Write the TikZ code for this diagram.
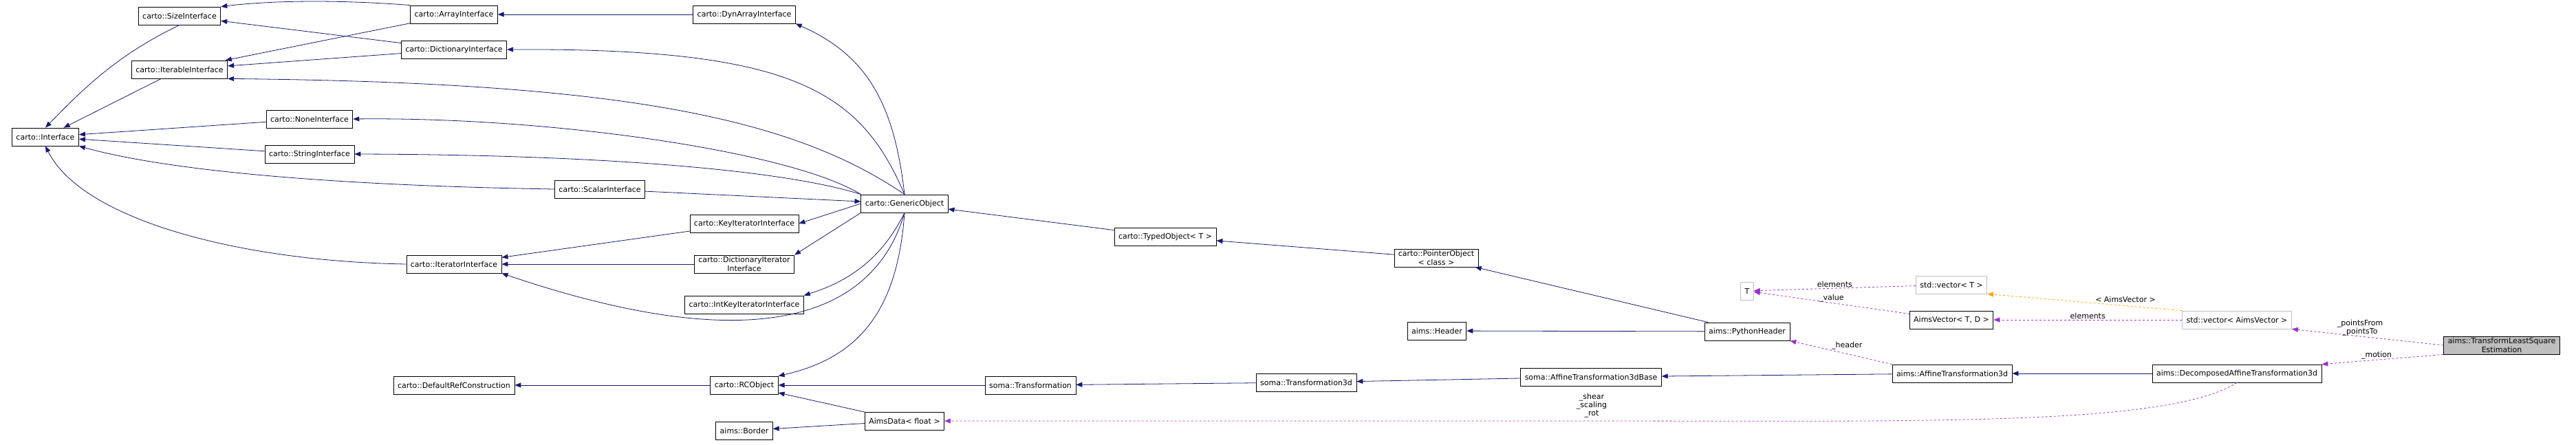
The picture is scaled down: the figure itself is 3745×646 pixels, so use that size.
\documentclass[tikz,border=0pt]{standalone}
\usepackage{fontspec}
\setmainfont{DejaVu Sans}
\usetikzlibrary{arrows.meta}
\definecolor{navy}{HTML}{191970}
\definecolor{orchid}{HTML}{9A32CD}
\definecolor{tmplorange}{HTML}{FFA500}
\begin{document}
\begin{tikzpicture}[x=1pt, y=-1pt, font=\fontsize{11}{13}\selectfont,
		cls/.style={draw, thick, fill=white, minimum height=26pt, inner xsep=6pt, inner ysep=2pt, align=center},
		ext/.style={cls, draw=gray!50},
		focus/.style={cls, fill=gray!50},
		inh/.style={-{Triangle[length=9pt, width=7pt]}, thick, navy},
		use/.style={-{Triangle[length=9pt, width=7pt]}, thick, dashed, orchid},
		tmpl/.style={-{Triangle[length=9pt, width=7pt]}, thick, dashed, tmplorange},
		lbl/.style={font=\fontsize{11}{12}\selectfont, text=black, align=center, inner sep=1pt}]
	\useasboundingbox (0,0) rectangle (3745,646);
	% carto interfaces
	\node[cls] (iface) at (66, 199) {carto::Interface};
	\node[cls] (size) at (261, 23) {carto::SizeInterface};
	\node[cls] (iter) at (261, 101) {carto::IterableInterface};
	\node[cls] (array) at (660, 21) {carto::ArrayInterface};
	\node[cls] (dict) at (660, 72) {carto::DictionaryInterface};
	\node[cls] (none) at (450, 173) {carto::NoneInterface};
	\node[cls] (str) at (450, 224) {carto::StringInterface};
	\node[cls] (scalar) at (872, 275) {carto::ScalarInterface};
	\node[cls] (iterator) at (660, 384) {carto::IteratorInterface};
	\node[cls] (defref) at (660, 560) {carto::DefaultRefConstruction};
	\node[cls] (dyn) at (1082, 21) {carto::DynArrayInterface};
	\node[cls] (keyit) at (1082, 325) {carto::KeyIteratorInterface};
	\node[cls] (dictit) at (1082, 384) {carto::DictionaryIterator\\Interface};
	\node[cls] (intkey) at (1082, 443) {carto::IntKeyIteratorInterface};
	\node[cls] (gen) at (1315, 296) {carto::GenericObject};
	\node[cls] (typed) at (1694, 344) {carto::TypedObject< T >};
	\node[cls] (ptr) at (2088, 375) {carto::PointerObject\\< class >};
	\node[cls] (rc) at (1082, 560) {carto::RCObject};
	% aims / soma
	\node[cls] (header) at (2089, 481) {aims::Header};
	\node[cls] (pyhdr) at (2540, 482) {aims::PythonHeader};
	\node[cls] (trans) at (1498, 560) {soma::Transformation};
	\node[cls] (trans3d) at (1899, 556) {soma::Transformation3d};
	\node[cls] (affbase) at (2313, 548) {soma::AffineTransformation3dBase};
	\node[cls] (aff) at (2838, 543) {aims::AffineTransformation3d};
	\node[cls] (decomp) at (3252, 543) {aims::DecomposedAffineTransformation3d};
	\node[cls] (data) at (1315, 612) {AimsData< float >};
	\node[cls] (border) at (1082, 626) {aims::Border};
	\node[ext] (t) at (2540, 423) {T};
	\node[ext] (vect) at (2837, 414) {std::vector< T >};
	\node[cls] (aimsvec) at (2837, 465) {AimsVector< T, D >};
	\node[ext] (vecav) at (3252, 465) {std::vector< AimsVector >};
	\node[focus] (tls) at (3637, 502) {aims::TransformLeastSquare\\Estimation};
	% inheritance
	\foreach \a/\b in {iter/iface, none/iface, str/iface, dict/size, array/iter, dict/iter,
			keyit/iterator, dictit/iterator, scalar/gen, typed/gen, ptr/typed, pyhdr/ptr,
			pyhdr/header, rc/defref, trans/rc, data/rc, data/border, trans3d/trans,
			affbase/trans3d, aff/affbase, decomp/aff} {
		\draw[inh] (\a) -- (\b);
	}
	\draw[inh] (size.south) .. controls (170,80) and (120,130) .. (iface.north);
	\draw[inh] (scalar.west) .. controls (500,270) and (250,250) .. (iface.south east);
	\draw[inh] (iterator.west) .. controls (350,380) and (120,320) .. (iface.south);
	\draw[inh] (array.north west) .. controls (500,0) and (400,0) .. (size.north east);
	\draw[inh] (dyn) -- (array);
	\draw[inh] (gen.north) .. controls (1300,150) and (1260,80) .. (dyn.south east);
	\draw[inh] (gen.north) .. controls (1250,130) and (1150,70) .. (dict.east);
	\draw[inh] (gen.north) .. controls (1150,170) and (900,120) .. (iter.south east);
	\draw[inh] (gen.north west) .. controls (1150,220) and (800,170) .. (none.east);
	\draw[inh] (gen.north west) .. controls (1150,250) and (900,225) .. (str.east);
	\draw[inh] (gen.west) -- (keyit.east);
	\draw[inh] (gen.south west) -- (dictit.north east);
	\draw[inh] (gen.south) .. controls (1280,380) and (1230,410) .. (intkey.north east);
	\draw[inh] (gen.south) .. controls (1280,430) and (1150,540) .. (iterator.south east);
	\draw[inh] (gen.south) .. controls (1305,450) and (1250,520) .. (rc.north east);
	% members
	\draw[use] (vect) -- node[lbl, above] {elements} (t);
	\draw[use] (aimsvec) -- node[lbl, above] {\_value} (t);
	\draw[use] (vecav) -- node[lbl, above] {elements} (aimsvec);
	\draw[tmpl] (vecav.north west) -- node[lbl, above right, pos=0.45] {< AimsVector >} (vect.south east);
	\draw[use] (aff.north west) -- node[lbl, above right, pos=0.6] {\_header} (pyhdr.south east);
	\draw[use] (tls.west) -- node[lbl, above, pos=0.55] {\_pointsFrom\\\_pointsTo} (vecav.south east);
	\draw[use] (tls.south west) -- node[lbl, above, pos=0.55] {\_motion} (decomp.north east);
	\draw[use] (decomp.south) .. controls (3150,620) and (2800,612) .. (2300,612) -- (data.east);
	\node[lbl] (shear) at (2314, 590) {\_shear\\\_scaling\\\_rot};
\end{tikzpicture}
\end{document}
